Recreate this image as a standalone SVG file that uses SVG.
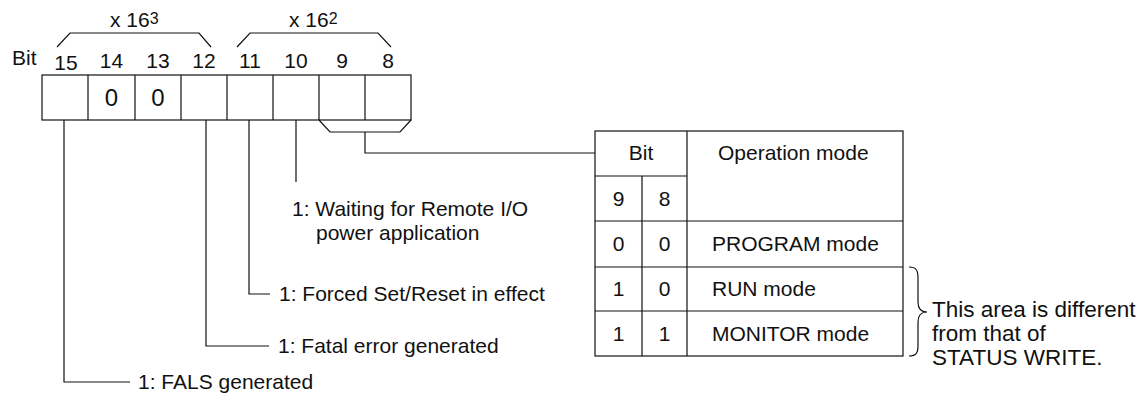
<svg xmlns="http://www.w3.org/2000/svg" width="1143" height="393" viewBox="0 0 1143 393">
<style>
.t{font-family:"Liberation Sans",Arial,sans-serif;font-size:21px;fill:#111}
.c{text-anchor:middle}
.n{font-size:22.5px}
.z{font-size:24px}
.l{fill:none;stroke:#111;stroke-width:1.2}
</style>
<rect width="1143" height="393" fill="#fff"/>
<g id="header">
<text class="t" x="110" y="27">x 16<tspan font-size="16" dy="-3">3</tspan></text>
<text class="t" x="289" y="27">x 16<tspan font-size="16" dy="-3">2</tspan></text>
<path class="l" d="M57,47 L70,33 L199,33 L211,47"/>
<path class="l" d="M237,47 L250,33 L378,33 L391,47"/>
<text class="t" x="12" y="65">Bit</text>
<text class="t c" x="66" y="70">15</text>
<text class="t c" x="111.5" y="68">14</text>
<text class="t c" x="158" y="68">13</text>
<text class="t c" x="204" y="68">12</text>
<text class="t c" x="250" y="68">11</text>
<text class="t c" x="296" y="68">10</text>
<text class="t c" x="342" y="68">9</text>
<text class="t c" x="388" y="68">8</text>
</g>
<g id="register">
<rect class="l" x="42" y="75" width="369" height="45"/>
<path class="l" d="M88,75V120M135,75V120M181,75V120M227,75V120M273,75V120M319,75V120M365,75V120"/>
<text class="t c z" x="111.5" y="106">0</text>
<text class="t c z" x="158" y="106">0</text>
</g>
<g id="connectors">
<path class="l" d="M319,120 L330,132 L400,132 L411,120"/>
<path class="l" d="M365,132 V153 H595"/>
<path class="l" d="M64,120 V382 H130"/>
<path class="l" d="M206,120 V346 H269"/>
<path class="l" d="M249,120 V294 H270"/>
<path class="l" d="M296,120 V182"/>
<path class="l" d="M909,267 C916,267 918,270 918,278 L918,302 C918,309 921,312 927,312 C921,312 918,315 918,322 L918,346 C918,353 916,356 909,356"/>
</g>
<g id="labels">
<text class="t" x="292" y="216">1: Waiting for Remote I/O</text>
<text class="t" x="316" y="240">power application</text>
<text class="t" x="279" y="301">1: Forced Set/Reset in effect</text>
<text class="t" x="278" y="353">1: Fatal error generated</text>
<text class="t" x="138" y="389">1: FALS generated</text>
</g>
<g id="table">
<rect class="l" x="595" y="131" width="308" height="225"/>
<path class="l" d="M687,131V356M642,176V356M595,176H687M595,221H903M595,267H903M595,311H903"/>
<text class="t c" x="641" y="160">Bit</text>
<text class="t" x="718" y="160">Operation mode</text>
<text class="t c" x="618.5" y="206">9</text>
<text class="t c" x="664.5" y="206">8</text>
<text class="t c" x="618.5" y="251">0</text>
<text class="t c" x="664.5" y="251">0</text>
<text class="t" x="712" y="251">PROGRAM mode</text>
<text class="t c" x="618.5" y="296">1</text>
<text class="t c" x="664.5" y="296">0</text>
<text class="t" x="712" y="296">RUN mode</text>
<text class="t c" x="618.5" y="341">1</text>
<text class="t c" x="664.5" y="341">1</text>
<text class="t" x="712" y="341">MONITOR mode</text>
</g>
<g id="note">
<text class="t n" x="932" y="317">This area is different</text>
<text class="t n" x="932" y="341">from that of</text>
<text class="t n" x="932" y="365">STATUS WRITE.</text>
</g>
</svg>
